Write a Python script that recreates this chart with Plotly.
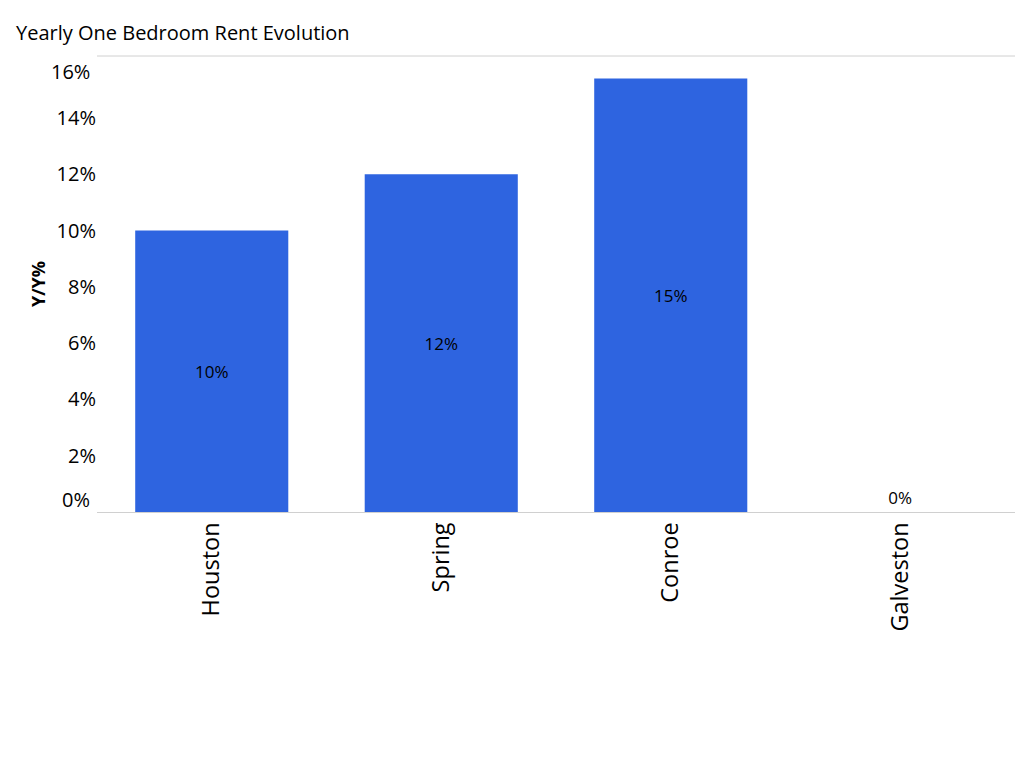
import plotly.graph_objects as go

categories = ["Houston", "Spring", "Conroe", "Galveston"]
values = [10.0, 12.0, 15.4, 0.0]
bar_labels = ["10%", "12%", "15%", "0%"]
tick_vals = [2, 4, 6, 8, 10, 12, 14]
tick_text = ["2%", "4%", "6%", "8%", "10%", "12%", "14%"]

FONT = "Open Sans, Noto Sans, sans-serif"
W, H = 1008, 751

fig = go.Figure()
fig.add_trace(go.Bar(
    x=categories,
    y=values,
    marker=dict(color="#2E64E0", line=dict(width=0)),
    text=bar_labels,
    textposition=["inside" if v > 0 else "outside" for v in values],
    insidetextanchor="middle",
    textangle=0,
    cliponaxis=False,
    textfont=dict(family=FONT, size=17, color="#000000"),
    hoverinfo="skip",
))

fig.update_layout(
    width=W, height=H,
    margin=dict(l=89, r=1, t=48, b=247),
    plot_bgcolor="white", paper_bgcolor="white",
    bargap=0.333,
    showlegend=False,
    font=dict(family=FONT, color="#000000"),
    title=dict(text="Yearly One Bedroom Rent Evolution", x=8 / W, xanchor="left",
               y=1 - 25 / H, yanchor="middle",
               font=dict(family=FONT, size=20, color="#000000")),
    xaxis=dict(
        type="category",
        tickangle=-90,
        tickfont=dict(family=FONT, size=23.5, color="#000000"),
        showline=True, linecolor="#d0d0d0", linewidth=1,
        ticks="", showgrid=False,
    ),
    yaxis=dict(
        range=[0, 16.2],
        tickvals=tick_vals,
        ticktext=tick_text,
        tickfont=dict(family=FONT, size=20, color="#000000"),
        ticks="", showgrid=False, zeroline=False,
        showline=False,
        title=dict(text="<b>Y/Y%</b>", font=dict(family=FONT, size=18, color="#000000"), standoff=6),
    ),
)

# top border line
fig.add_shape(type="line", xref="paper", yref="paper", x0=0, x1=1, y0=1, y1=1,
              line=dict(color="#d0d0d0", width=1))

# end tick labels shifted inward
for val, txt, shift in [(0, "0%", 13), (16, "16%", -10)]:
    fig.add_annotation(x=0, xref="paper", xanchor="right", xshift=-5, y=val, yref="y",
                       yshift=shift, text=txt, showarrow=False,
                       font=dict(family=FONT, size=20, color="#000000"))

fig.write_html("out.html")
